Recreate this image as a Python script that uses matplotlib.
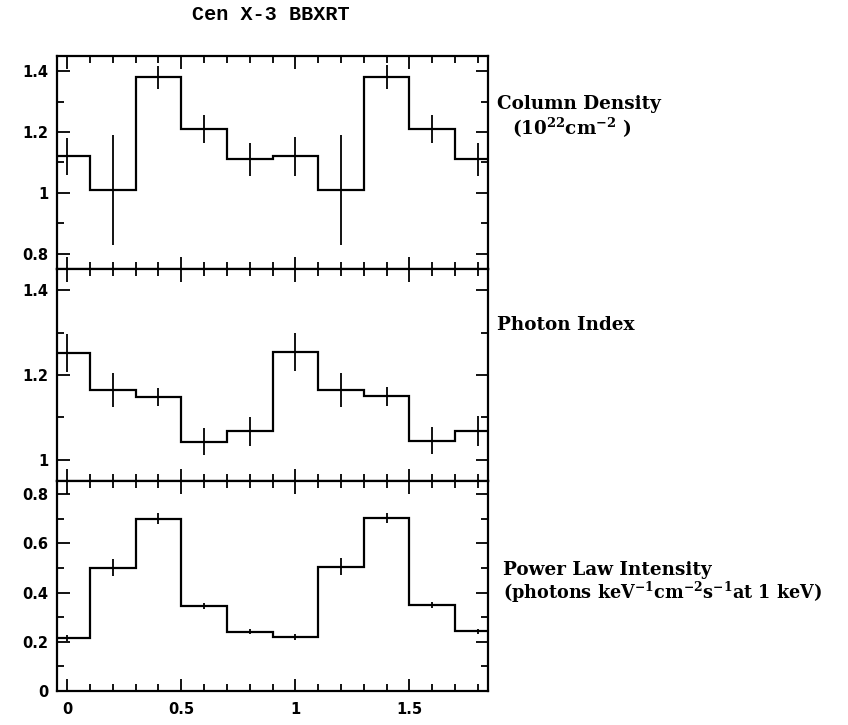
import numpy as np
import matplotlib
matplotlib.use("Agg")
import matplotlib.pyplot as plt
from matplotlib.ticker import MultipleLocator, FuncFormatter

# pulse phase bins (centres), two cycles shown
phase = [0.0, 0.2, 0.4, 0.6, 0.8, 1.0, 1.2, 1.4, 1.6, 1.8]
bin_width = 0.2

# column density (1e22 cm^-2)
nh = [1.12, 1.01, 1.38, 1.21, 1.11, 1.12, 1.01, 1.38, 1.21, 1.11]
nh_err = [0.062, 0.18, 0.038, 0.046, 0.055, 0.064, 0.18, 0.04, 0.046, 0.053]

# photon index
gamma = [1.252, 1.164, 1.148, 1.043, 1.067, 1.255, 1.165, 1.15, 1.045, 1.068]
gamma_err = [0.045, 0.04, 0.022, 0.032, 0.035, 0.045, 0.04, 0.022, 0.032, 0.035]

# power law intensity
norm = [0.215, 0.501, 0.70, 0.346, 0.24, 0.219, 0.505, 0.703, 0.35, 0.243]
norm_err = [0.012, 0.034, 0.022, 0.012, 0.01, 0.012, 0.034, 0.022, 0.012, 0.01]

W, H = 848, 725
fig = plt.figure(figsize=(W/100, H/100), dpi=100)

tickfont = dict(family="DejaVu Sans", weight="bold", size=10.5)
plt.rcParams['mathtext.fontset'] = 'dejavuserif'

def fmt(v, pos):
    return "%g" % round(v, 3)

def panel(top, bottom, y, yerr, ylim, show_x):
    ax = fig.add_axes([57/W, 1 - bottom/H, (488-57)/W, (bottom-top)/H])
    ph = np.array(phase)
    edges = np.append(ph - bin_width/2, ph[-1] + bin_width/2)
    ax.stairs(y, edges, color="black", lw=1.6, baseline=None)
    ax.errorbar(phase, y, yerr=yerr, fmt="none", ecolor="black", elinewidth=1.3, capsize=0)
    ax.set_xlim(-0.045, 1.845)
    ax.set_ylim(*ylim)
    ax.xaxis.set_major_locator(MultipleLocator(0.5))
    ax.xaxis.set_minor_locator(MultipleLocator(0.1))
    ax.yaxis.set_major_locator(MultipleLocator(0.2))
    ax.yaxis.set_minor_locator(MultipleLocator(0.1))
    ax.tick_params(which="both", direction="in", top=True, right=True, width=1.3)
    ax.tick_params(which="major", length=9)
    ax.tick_params(which="minor", length=5)
    ax.tick_params(axis="y", which="major", pad=6)
    ax.yaxis.set_major_formatter(FuncFormatter(fmt))
    ax.xaxis.set_major_formatter(FuncFormatter(fmt))
    for lab in ax.get_yticklabels() + ax.get_xticklabels():
        lab.set_fontproperties(matplotlib.font_manager.FontProperties(**tickfont))
    if not show_x:
        ax.tick_params(axis="x", labelbottom=False)
    for s in ax.spines.values():
        s.set_linewidth(1.6)
    return ax

ax1 = panel(56, 269, nh, nh_err, (0.75, 1.45), False)
ax2 = panel(269, 481, gamma, gamma_err, (0.95, 1.45), False)
ax3 = panel(481, 691, norm, norm_err, (0.0, 0.853), True)
ax3.tick_params(axis="x", pad=8)

lab = dict(family="DejaVu Serif", weight="bold", size=13.2, va="baseline", ha="left")
fig.text(497/W, 1 - 109/H, "Column Density", **lab)
fig.text(512/W, 1 - 135/H, r"(10$^{\mathbf{22}}$cm$^{\mathbf{-2}}$ )", **lab)
fig.text(497/W, 1 - 330/H, "Photon Index", **lab)
fig.text(503/W, 1 - 575/H, "Power Law Intensity", **lab)
lab["size"] = 12.7
fig.text(503/W, 1 - 599/H,
         r"(photons keV$^{\mathbf{-1}}$cm$^{\mathbf{-2}}$s$^{\mathbf{-1}}$at 1 keV)", **lab)

fig.text(271/W, 1 - 15/H, "Cen X-3 BBXRT", family="Liberation Mono", weight="bold",
         size=14.5, ha="center", va="center")

fig.savefig("out.png", dpi=100)
